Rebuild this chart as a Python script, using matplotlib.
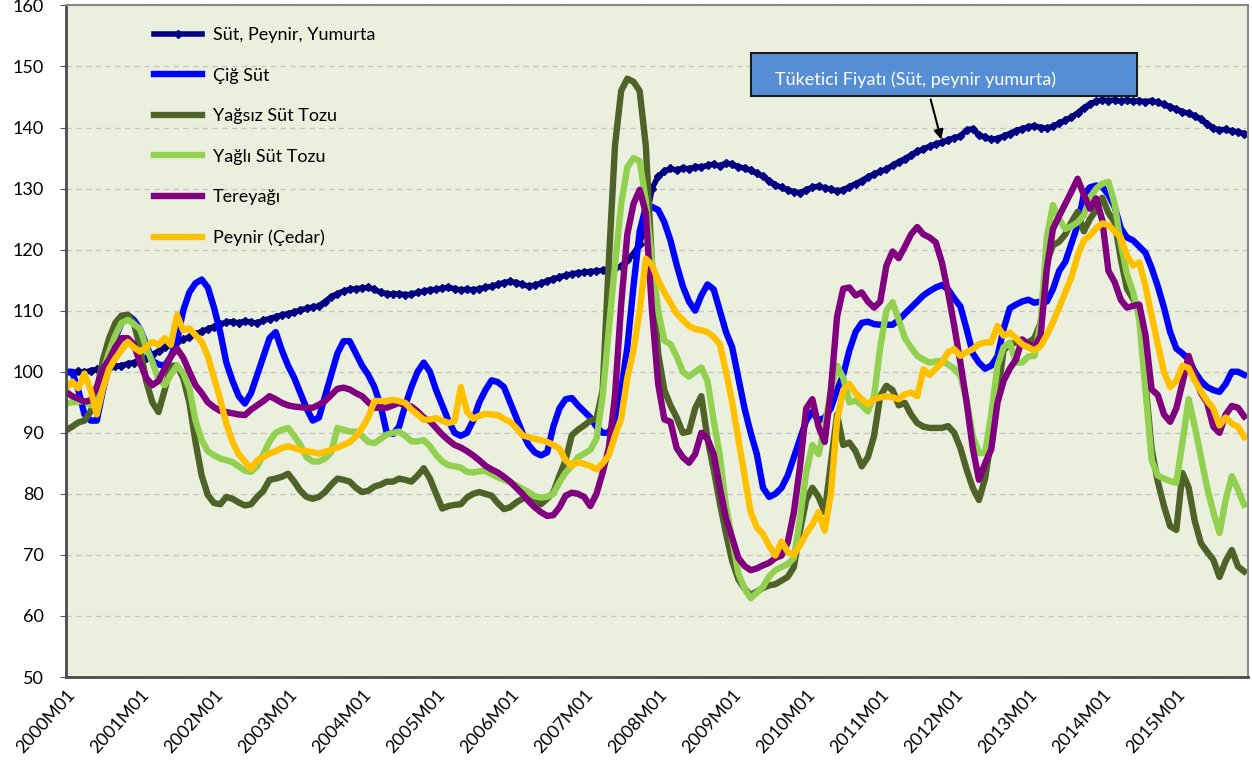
import numpy as np
import matplotlib
matplotlib.use("Agg")
import matplotlib.pyplot as plt
from matplotlib.patches import Rectangle

plt.rcParams['font.family'] = ['Lato', 'DejaVu Sans']

# monthly index values, 2000M01 .. 2015M12 (one row per year)
sut_peynir_yumurta = [
    100.0, 99.8, 100.1, 99.9, 100.2, 100.4, 100.2, 100.6, 100.9, 101.0, 101.3, 101.5,
    101.8, 102.2, 102.8, 103.4, 104.0, 104.5, 104.9, 105.3, 105.7, 106.2, 106.6, 107.0,
    107.4, 107.8, 108.1, 108.2, 108.0, 108.3, 108.1, 108.0, 108.4, 108.7, 109.0, 109.3,
    109.5, 109.8, 110.1, 110.4, 110.6, 110.8, 111.5, 112.3, 112.8, 113.2, 113.5, 113.6,
    113.7, 113.8, 113.5, 113.0, 112.8, 112.7, 112.8, 112.6, 112.7, 113.0, 113.2, 113.4,
    113.5, 113.7, 113.8, 113.6, 113.4, 113.5, 113.4, 113.6, 113.8, 114.0, 114.3, 114.6,
    114.8, 114.6, 114.3, 114.0, 114.2, 114.5, 114.9, 115.2, 115.5, 115.8, 116.0, 116.2,
    116.3, 116.4, 116.5, 116.6, 116.8, 117.0, 117.3, 118.3, 119.3, 121.0, 124.5, 130.0,
    132.0, 132.8, 133.3, 133.0, 133.4, 133.2, 133.6, 133.5, 133.8, 134.0, 133.7, 134.2,
    134.0, 133.6, 133.3, 133.0, 132.5, 132.0, 131.3, 130.6, 130.2, 129.8, 129.5, 129.3,
    129.8, 130.2, 130.4, 130.1, 129.9, 129.6, 129.8, 130.3, 130.8, 131.3, 131.9, 132.4,
    132.8, 133.2, 133.8, 134.4, 134.9, 135.5, 136.1, 136.5, 136.9, 137.3, 137.6, 138.0,
    138.3, 138.6, 139.6, 139.8, 138.8, 138.4, 138.1, 138.2, 138.6, 139.0, 139.5, 139.8,
    140.1, 140.3, 140.0, 139.9, 140.2, 140.7, 141.2, 141.7, 142.4, 143.2, 143.9, 144.3,
    144.5, 144.4, 144.5, 144.3, 144.5, 144.3, 144.4, 144.2, 144.4, 144.1, 143.8, 143.4,
    143.0, 142.6, 142.3, 141.9, 141.4, 140.6, 139.9, 139.6, 139.7, 139.4, 139.3, 139.0,
]

cig_sut = [
    100.0, 100.0, 97.0, 93.0, 92.0, 92.0, 97.0, 101.0, 105.5, 108.0, 109.3, 108.5,
    107.0, 104.5, 101.8, 101.2, 101.0, 102.5, 105.0, 110.0, 113.0, 114.5, 115.1, 113.8,
    110.5, 106.5, 101.5, 98.5, 96.0, 94.8, 96.5, 99.5, 102.5, 105.5, 106.5, 103.5,
    101.0, 99.0, 96.5, 94.0, 92.0, 92.5, 96.0, 99.5, 103.0, 105.0, 105.0, 103.0,
    101.0, 99.5, 97.5, 94.5, 90.0, 89.8, 91.0, 94.5, 97.5, 100.0, 101.5, 100.0,
    97.0, 94.5, 92.0, 90.0, 89.5, 90.0, 92.0, 95.0, 97.0, 98.6, 98.3, 97.5,
    95.0, 92.5, 90.0, 88.0, 86.8, 86.3, 86.8, 91.0, 94.0, 95.5, 95.7, 94.5,
    93.5, 92.5, 91.0, 90.0, 90.0, 92.0, 97.0, 104.0, 114.0, 123.0, 127.0, 127.0,
    126.5, 124.5, 121.5, 117.5, 114.0, 111.5, 110.0, 112.5, 114.3, 113.5, 110.0, 106.5,
    104.0, 99.0, 94.0, 90.0, 86.5, 81.0, 79.5, 80.0, 81.0, 83.0, 86.0, 89.0,
    92.0, 93.5, 92.0, 92.5, 94.0, 97.0, 99.5, 103.5, 106.5, 108.0, 108.2, 107.8,
    107.7, 107.7, 107.7, 108.5, 109.5, 110.5, 111.5, 112.5, 113.2, 113.8, 114.2, 113.5,
    112.0, 110.7, 107.0, 103.0, 101.5, 100.5, 101.0, 102.5, 107.0, 110.4, 111.0, 111.5,
    111.8, 111.3, 111.5, 111.5, 113.5, 116.5, 118.0, 121.0, 124.0, 129.0, 130.2, 130.5,
    130.3, 129.0, 127.0, 123.5, 122.0, 121.5, 120.5, 119.5, 117.0, 114.0, 110.5, 106.5,
    103.8, 103.0, 102.0, 100.0, 98.5, 97.5, 97.0, 96.7, 98.0, 100.0, 100.0, 99.5,
]

yagsiz_sut_tozu = [
    90.4, 91.0, 91.7, 92.0, 93.5, 97.0, 102.0, 105.5, 108.0, 109.2, 109.3, 108.0,
    104.0, 98.5, 95.0, 93.4, 97.0, 101.0, 101.0, 99.0, 95.0, 88.5, 83.0, 79.8,
    78.5, 78.3, 79.5, 79.2, 78.6, 78.1, 78.3, 79.5, 80.5, 82.3, 82.5, 82.8,
    83.3, 82.0, 80.5, 79.5, 79.2, 79.5, 80.3, 81.5, 82.5, 82.3, 82.0, 81.0,
    80.3, 80.5, 81.2, 81.5, 82.0, 82.0, 82.5, 82.3, 82.0, 83.0, 84.2, 82.5,
    80.0, 77.6, 78.0, 78.2, 78.3, 79.4, 80.0, 80.3, 80.0, 79.7, 78.5, 77.5,
    77.8, 78.6, 79.2, 79.7, 79.2, 78.3, 79.2, 80.2, 83.0, 85.5, 89.6, 90.5,
    91.2, 92.0, 92.3, 97.0, 118.0, 137.0, 146.0, 148.0, 147.5, 146.0, 137.0, 117.5,
    103.0, 97.0, 94.5, 92.5, 90.0, 90.2, 94.0, 96.0, 89.0, 84.0, 78.5, 73.5,
    69.0, 66.0, 64.5, 63.4, 64.0, 64.6, 65.0, 65.2, 65.8, 66.4, 68.0, 74.0,
    79.0, 81.0, 79.5, 77.0, 85.0, 93.0, 88.0, 88.4, 87.0, 84.5, 86.0, 89.5,
    96.0, 97.7, 97.0, 94.5, 94.9, 93.0, 91.6, 91.0, 90.8, 90.8, 90.8, 91.1,
    90.0, 87.5, 84.0, 81.0, 79.0, 82.5, 89.0, 96.0, 103.5, 104.5, 104.8, 104.6,
    104.8, 105.5, 108.0, 118.0, 120.7, 121.3, 122.5, 124.5, 126.2, 123.0, 125.0, 126.5,
    128.5, 126.0, 124.5, 118.5, 113.6, 111.9, 110.3, 98.2, 87.3, 82.0, 78.0, 74.7,
    74.1, 83.4, 81.0, 75.5, 71.9, 70.5, 69.2, 66.4, 69.0, 70.8, 68.1, 67.3,
]

yagli_sut_tozu = [
    94.8, 95.0, 95.1, 95.2, 94.5, 96.0, 100.0, 103.3, 106.0, 108.0, 108.5, 107.8,
    107.0, 104.0, 101.6, 98.8, 97.8, 99.5, 101.0, 99.8, 97.3, 92.0, 88.8, 87.0,
    86.3, 85.8, 85.5, 85.2, 84.5, 83.8, 83.6, 84.5, 86.5, 88.6, 90.0, 90.5,
    90.8, 89.5, 88.0, 86.0, 85.3, 85.3, 85.8, 86.8, 90.8, 90.5, 90.2, 90.2,
    89.5, 88.5, 88.3, 89.0, 89.7, 90.0, 90.2, 89.5, 88.6, 88.6, 88.8, 87.8,
    86.4, 85.3, 84.7, 84.5, 84.3, 83.6, 83.5, 83.7, 83.8, 83.2, 82.7, 82.3,
    81.9, 81.4, 80.8, 80.3, 79.6, 79.4, 79.5, 80.0, 81.9, 83.5, 84.6, 86.0,
    86.6, 87.2, 89.0, 96.0, 107.0, 117.5, 127.4, 133.5, 135.0, 134.5, 128.0, 118.0,
    110.0, 105.1, 104.5, 102.5, 100.0, 99.2, 100.0, 100.7, 98.5, 92.0, 86.3, 78.0,
    72.5, 67.0, 64.5, 62.9, 63.8, 64.8, 66.5, 67.5, 68.0, 68.5, 69.5, 76.0,
    83.5, 88.0, 86.5, 91.0, 97.0, 101.0, 99.0, 95.0, 95.3, 94.5, 93.5, 96.0,
    104.0, 110.0, 111.4, 108.5, 105.5, 104.0, 102.6, 102.0, 101.5, 101.7, 101.8, 101.2,
    100.5, 99.3, 95.5, 89.5, 86.7, 86.7, 93.0, 101.0, 104.0, 104.8, 101.5, 101.5,
    102.5, 102.6, 108.0, 122.0, 127.3, 125.0, 123.4, 123.8, 124.5, 125.6, 128.5, 130.0,
    130.8, 131.1, 127.5, 121.0, 116.0, 113.0, 108.5, 97.0, 85.5, 83.0, 82.5, 82.1,
    81.8, 88.5, 95.5, 91.0, 86.0, 81.0, 77.0, 73.6, 79.0, 82.9, 80.7, 78.2,
]

tereyagi = [
    96.7, 96.0, 95.6, 95.1, 95.3, 97.5, 100.5, 102.0, 104.0, 105.5, 105.5, 104.5,
    101.5, 99.0, 97.8, 98.5, 100.5, 102.5, 103.8, 102.3, 100.0, 97.8, 96.5, 95.0,
    94.2, 93.6, 93.4, 93.2, 93.0, 92.9, 93.8, 94.5, 95.2, 96.0, 95.5, 94.9,
    94.5, 94.3, 94.2, 94.1, 94.1, 94.6, 95.2, 96.2, 97.2, 97.4, 97.1, 96.5,
    96.0, 95.0, 94.1, 94.1, 94.1, 94.5, 94.9, 94.5, 94.3, 93.5, 92.5, 91.9,
    90.8, 89.7, 88.8, 88.0, 87.6, 87.0, 86.3, 85.5, 84.6, 84.0, 83.5, 82.8,
    82.0, 81.0, 80.0, 78.8, 77.8, 77.0, 76.4, 76.5, 77.8, 79.7, 80.2, 80.0,
    79.5, 78.0, 80.0, 83.5, 87.5, 96.0, 111.0, 122.5, 127.5, 129.8, 126.0, 110.0,
    98.0, 92.2, 91.8, 87.5, 86.0, 85.1, 86.5, 90.0, 89.0, 86.5, 81.0, 76.0,
    72.8, 69.5, 68.2, 67.5, 67.8, 68.3, 68.7, 69.5, 69.9, 72.0, 77.0, 84.5,
    94.0, 95.5, 91.0, 88.5, 97.0, 109.0, 113.6, 113.8, 112.5, 113.0, 111.5, 110.5,
    111.5, 117.4, 119.7, 118.6, 120.5, 122.5, 123.7, 122.5, 122.0, 121.2, 117.9, 113.0,
    107.5, 101.5, 95.0, 87.5, 82.3, 85.0, 87.3, 94.9, 98.5, 100.5, 102.0, 105.3,
    104.5, 104.0, 105.9, 116.8, 123.4, 125.5, 127.5, 129.5, 131.6, 129.0, 126.7, 128.4,
    124.8, 116.5, 114.7, 111.8, 110.5, 110.8, 111.0, 106.0, 97.1, 96.2, 93.0, 91.8,
    94.0, 98.2, 102.6, 99.3, 96.5, 94.9, 91.0, 90.0, 93.0, 94.4, 94.1, 92.7,
]

peynir_cedar = [
    97.3, 98.4, 97.3, 99.7, 97.0, 93.0, 97.3, 100.5, 102.2, 103.5, 104.9, 104.0,
    103.3, 104.0, 104.9, 104.4, 105.5, 104.4, 109.3, 106.8, 107.1, 106.0, 104.9, 102.5,
    99.0, 95.5, 91.5, 88.5, 86.5, 85.3, 84.1, 85.5, 86.0, 86.6, 87.0, 87.5,
    87.8, 87.5, 87.2, 87.0, 86.8, 86.6, 86.9, 87.2, 87.6, 88.0, 88.5, 89.4,
    90.8, 92.5, 95.2, 95.2, 95.2, 95.4, 95.2, 94.9, 93.8, 93.0, 92.1, 92.2,
    92.4, 92.0, 91.6, 91.9, 97.5, 93.5, 92.3, 92.8, 93.1, 93.0, 92.9, 92.3,
    91.8, 90.8, 89.6, 89.3, 89.0, 88.8, 88.5, 88.0, 87.4, 85.5, 84.6, 85.2,
    84.9, 84.6, 84.0, 85.0, 86.3, 89.5, 92.3, 99.0, 103.5, 110.0, 118.5, 117.5,
    115.0, 113.0, 111.3, 109.5, 108.5, 107.5, 107.0, 106.8, 106.5, 105.7, 104.5, 100.0,
    95.0, 89.0, 83.0, 77.0, 74.5, 73.4, 71.5, 69.9, 72.2, 70.5, 70.0, 71.6,
    73.5, 75.0, 77.0, 74.0, 80.0, 92.0, 97.0, 98.0, 96.5, 95.5, 94.7, 95.5,
    95.8, 96.0, 95.8, 95.5, 96.3, 96.6, 96.0, 100.4, 99.5, 100.5, 101.5, 103.2,
    103.7, 102.6, 103.2, 103.7, 104.5, 104.8, 104.8, 107.5, 105.9, 106.4, 105.5, 104.5,
    104.0, 103.5, 104.2, 106.0, 108.1, 110.5, 113.0, 115.5, 119.0, 121.5, 122.3, 123.5,
    124.3, 124.0, 123.0, 122.0, 119.0, 117.4, 117.9, 114.0, 109.2, 104.5, 100.0, 97.5,
    98.5, 101.0, 100.6, 98.5, 96.8, 95.2, 94.0, 91.2, 92.5, 91.5, 91.0, 89.3,
]

years = list(range(2000, 2016))
tick_labels = [f"{y}M01" for y in years]
months = np.arange(len(sut_peynir_yumurta))

fig = plt.figure(figsize=(12.52, 7.72), dpi=100)
ax = fig.add_axes([0.0527, 0.123, 0.944, 0.870])
ax.set_facecolor('#EBF0DE')

ax.plot(months, sut_peynir_yumurta, color='#000080', lw=4, marker='D', ms=4.5,
        label='Süt, Peynir, Yumurta')
ax.plot(months, cig_sut, color='#0000FF', lw=4.6, label='Çiğ Süt')
ax.plot(months, yagsiz_sut_tozu, color='#4F6228', lw=4.6, label='Yağsız Süt Tozu')
ax.plot(months, yagli_sut_tozu, color='#92D050', lw=4.6, label='Yağlı Süt Tozu')
ax.plot(months, tereyagi, color='#800080', lw=4.6, label='Tereyağı')
ax.plot(months, peynir_cedar, color='#FFC000', lw=4.6, label='Peynir (Çedar)')

ax.set_xlim(0, 191.6)
ax.set_ylim(50, 160)
ax.set_yticks(range(50, 161, 10))
ax.set_xticks(months[::12])
ax.set_xticklabels(tick_labels, rotation=48, ha='right', rotation_mode='anchor')
ax.tick_params(axis='x', length=0, labelsize=13, pad=7)
ax.tick_params(axis='y', length=4, labelsize=13, color='#555555', pad=12)
ax.yaxis.grid(True, color='#C8C8C8', ls=(0, (4, 3)), lw=1)
ax.set_axisbelow(True)

for side in ['left', 'bottom']:
    ax.spines[side].set_color('#4A4A4A')
    ax.spines[side].set_linewidth(2)
for side in ['top', 'right']:
    ax.spines[side].set_color('#8A8A8A')
    ax.spines[side].set_linewidth(1.5)

ax.legend(loc='upper left', bbox_to_anchor=(0.068, 0.978), frameon=False,
          fontsize=13, labelspacing=1.35, handlelength=2.7, handletextpad=0.6,
          borderaxespad=0)

# callout box with arrow
ax.add_patch(Rectangle((0.580, 0.8646), 0.326, 0.064, transform=ax.transAxes,
                       facecolor='#558ED5', edgecolor='#1A1A1A', lw=1.5, zorder=5))
ax.text(0.600, 0.890, 'Tüketici Fiyatı (Süt, peynir yumurta)', transform=ax.transAxes,
        color='white', fontsize=13, va='center', ha='left', zorder=6)
ax.annotate('', xy=(142, sut_peynir_yumurta[142]), xycoords='data',
            xytext=(0.731, 0.864), textcoords='axes fraction',
            arrowprops=dict(arrowstyle='-|>', color='black', lw=1.5, mutation_scale=14),
            zorder=6)

fig.savefig('out.png', dpi=100)
